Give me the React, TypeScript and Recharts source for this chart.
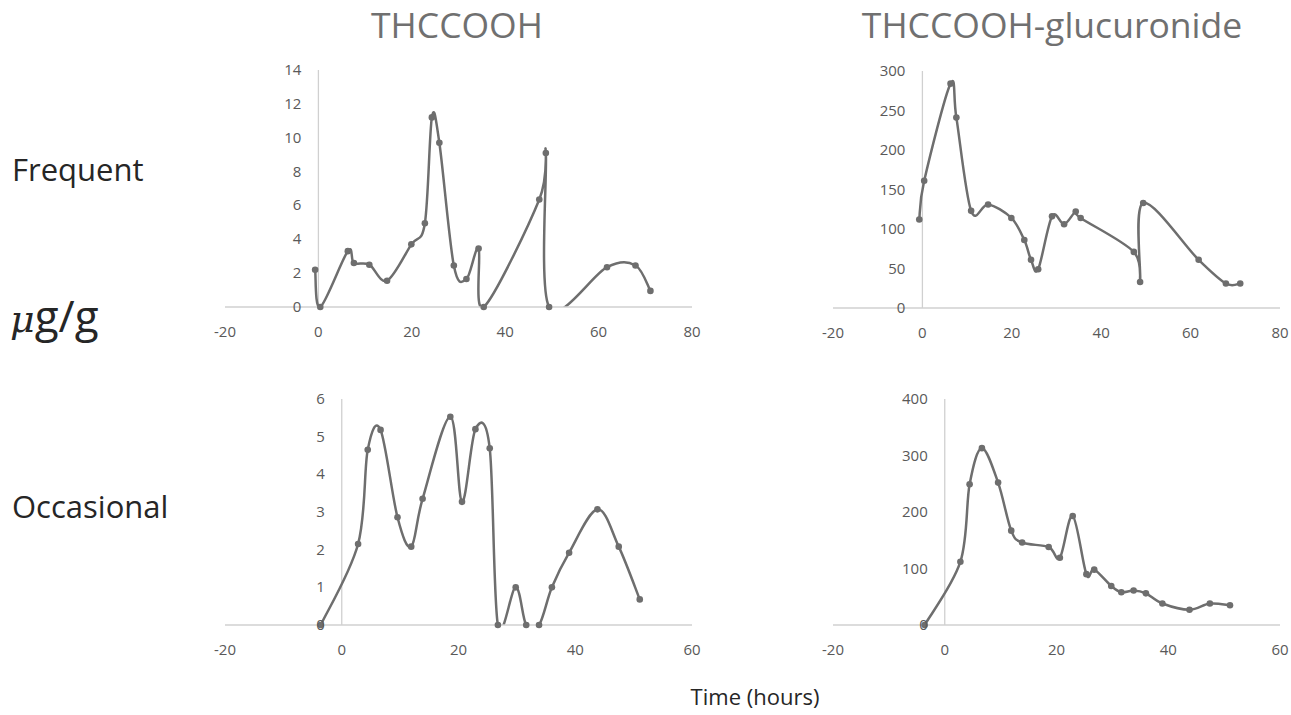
import React from "react";
import { LineChart, Line, XAxis, YAxis, ReferenceLine } from "recharts";

// sample times (hours) and concentrations (µg/g)
const FREQ_HOURS = [-0.7, 0.4, 6.3, 7.6, 10.9, 14.7, 19.9, 22.8, 24.3, 25.9, 29.0, 31.7, 34.3, 35.4, 47.3, 48.7, 49.4, 61.8, 67.9, 71.1];
const FREQ_THCCOOH = [2.2, 0, 3.3, 2.6, 2.5, 1.55, 3.7, 4.95, 11.2, 9.7, 2.45, 1.65, 3.45, 0, 6.35, 9.1, 0, 2.35, 2.45, 0.95];
const FREQ_GLUC = [112, 161, 284, 241, 123, 131, 114, 86, 61, 49, 116, 106, 122, 114, 71, 33, 133, 61, 31, 31];

const OCC_HOURS = [-3.6, 2.8, 4.45, 6.65, 9.55, 11.9, 13.85, 18.6, 20.6, 22.9, 25.35, 26.75, 29.8, 31.6, 33.8, 36.0, 38.95, 43.8, 47.45, 51.05];
const OCC_THCCOOH = [0, 2.15, 4.65, 5.18, 2.86, 2.08, 3.35, 5.53, 3.27, 5.2, 4.69, 0, 1.0, 0, 0, 1.0, 1.92, 3.07, 2.08, 0.68];
const OCC_GLUC = [0, 112, 249, 313, 252, 167, 146, 138, 119, 193, 90, 98, 69, 58, 61, 56, 38, 27, 38, 35];

const X_TICKS_FREQ = [-20, 0, 20, 40, 60, 80];
const X_TICKS_OCC = [-20, 0, 20, 40, 60];
const Y_TICKS_FREQ_THC = [0, 2, 4, 6, 8, 10, 12, 14];
const Y_TICKS_FREQ_GLUC = [0, 50, 100, 150, 200, 250, 300];
const Y_TICKS_OCC_THC = [0, 1, 2, 3, 4, 5, 6];
const Y_TICKS_OCC_GLUC = [0, 100, 200, 300, 400];

const SERIES_COLOR = "#6e6e6e";
const AXIS_COLOR = "#d0d0d0";
const TICK_COLOR = "#595959";
const FONT = "'Open Sans', 'Noto Sans', sans-serif";
const PAD = 30;
const TOP_PAD = 12;

// Excel-style smoothed line (Catmull-Rom, control points at 1/6 of neighbour span)
function excelCurve(context: any) {
  let pts: number[][] = [];
  return {
    areaStart() {},
    areaEnd() {},
    lineStart() {
      pts = [];
    },
    lineEnd() {
      const n = pts.length;
      if (!n) return;
      context.moveTo(pts[0][0], pts[0][1]);
      for (let i = 0; i < n - 1; i++) {
        const p0 = pts[Math.max(0, i - 1)];
        const p1 = pts[i];
        const p2 = pts[i + 1];
        const p3 = pts[Math.min(n - 1, i + 2)];
        context.bezierCurveTo(
          p1[0] + (p2[0] - p0[0]) / 6,
          p1[1] + (p2[1] - p0[1]) / 6,
          p2[0] - (p3[0] - p1[0]) / 6,
          p2[1] - (p3[1] - p1[1]) / 6,
          p2[0],
          p2[1]
        );
      }
    },
    point(x: number, y: number) {
      pts.push([+x, +y]);
    },
  };
}

const toRows = (hours: number[], values: number[]) => hours.map((t, i) => ({ t, v: values[i] }));

const XTick = ({ x, y, payload }: { x?: number; y?: number; payload?: { value: number } }) => (
  <text x={x} y={y} dy={11} textAnchor="middle" fill={TICK_COLOR} style={{ fontFamily: FONT, fontSize: 15 }}>
    {payload?.value}
  </text>
);

interface PanelProps {
  hours: number[];
  values: number[];
  xTicks: number[];
  yTicks: number[];
  left: number;
  top: number;
  plotW: number;
  plotH: number;
}

function Panel({ hours, values, xTicks, yTicks, left, top, plotW, plotH }: PanelProps) {
  const xMin = xTicks[0];
  const xMax = xTicks[xTicks.length - 1];
  // y labels sit next to the vertical axis at t = 0, as in Excel
  const zeroX = PAD + ((0 - xMin) / (xMax - xMin)) * plotW;

  const renderYTick = (p: any) => (
    <text key={p.index} x={zeroX - 17} y={p.y} dy={5} textAnchor="end" fill={TICK_COLOR} style={{ fontFamily: FONT, fontSize: 15 }}>
      {p.payload?.value}
    </text>
  );

  return (
    <div style={{ position: "absolute", left: left - PAD, top: top - TOP_PAD }}>
      <LineChart
        width={plotW + PAD * 2}
        height={plotH + TOP_PAD + 36}
        data={toRows(hours, values)}
        margin={{ top: TOP_PAD, right: PAD, left: 0, bottom: 0 }}
        style={{ overflow: "visible" }}
      >
        <XAxis
          dataKey="t"
          type="number"
          domain={[xMin, xMax]}
          ticks={xTicks}
          height={36}
          tickLine={false}
          tickMargin={13}
          axisLine={{ stroke: AXIS_COLOR, strokeWidth: 1.3 }}
          tick={<XTick />}
        />
        <YAxis
          type="number"
          width={PAD}
          domain={[yTicks[0], yTicks[yTicks.length - 1]]}
          ticks={yTicks}
          allowDataOverflow
          axisLine={false}
          tickLine={false}
          tick={renderYTick}
        />
        <ReferenceLine x={0} stroke={AXIS_COLOR} strokeWidth={1.3} />
        <Line
          dataKey="v"
          type={excelCurve as any}
          stroke={SERIES_COLOR}
          strokeWidth={2.5}
          dot={{ r: 3.3, fill: SERIES_COLOR, stroke: "none", clipDot: false }}
          activeDot={false}
          isAnimationActive={false}
        />
      </LineChart>
    </div>
  );
}

export default function App() {
  return (
    <div style={{ position: "absolute", left: 0, top: 0, width: 1291, height: 715, background: "#fff", fontFamily: FONT }}>
      <svg width={1291} height={715} style={{ position: "absolute", left: 0, top: 0 }}>
        <text x={457} y={38} textAnchor="middle" fill="#707070" style={{ fontFamily: FONT, fontSize: 35.5 }}>
          THCCOOH
        </text>
        <text x={1052} y={38} textAnchor="middle" fill="#707070" style={{ fontFamily: FONT, fontSize: 35.5 }}>
          THCCOOH-glucuronide
        </text>
        <text x={12} y={181} fill="#262626" style={{ fontFamily: FONT, fontSize: 31 }}>
          Frequent
        </text>
        <text x={10} y={332} fill="#262626" style={{ fontFamily: FONT, fontSize: 44 }}>
          <tspan style={{ fontFamily: "'DejaVu Serif', serif", fontStyle: "italic", fontSize: 38 }}>μ</tspan>g/g
        </text>
        <text x={12} y={518} fill="#262626" style={{ fontFamily: FONT, fontSize: 31 }}>
          Occasional
        </text>
        <text x={755} y={705} textAnchor="middle" fill="#262626" style={{ fontFamily: FONT, fontSize: 22 }}>
          Time (hours)
        </text>
      </svg>

      <Panel hours={FREQ_HOURS} values={FREQ_THCCOOH} xTicks={X_TICKS_FREQ} yTicks={Y_TICKS_FREQ_THC} left={225} top={70} plotW={467} plotH={237} />
      <Panel hours={FREQ_HOURS} values={FREQ_GLUC} xTicks={X_TICKS_FREQ} yTicks={Y_TICKS_FREQ_GLUC} left={833} top={71} plotW={447} plotH={237} />
      <Panel hours={OCC_HOURS} values={OCC_THCCOOH} xTicks={X_TICKS_OCC} yTicks={Y_TICKS_OCC_THC} left={225} top={399} plotW={467} plotH={226} />
      <Panel hours={OCC_HOURS} values={OCC_GLUC} xTicks={X_TICKS_OCC} yTicks={Y_TICKS_OCC_GLUC} left={833} top={399} plotW={447} plotH={226} />
    </div>
  );
}
